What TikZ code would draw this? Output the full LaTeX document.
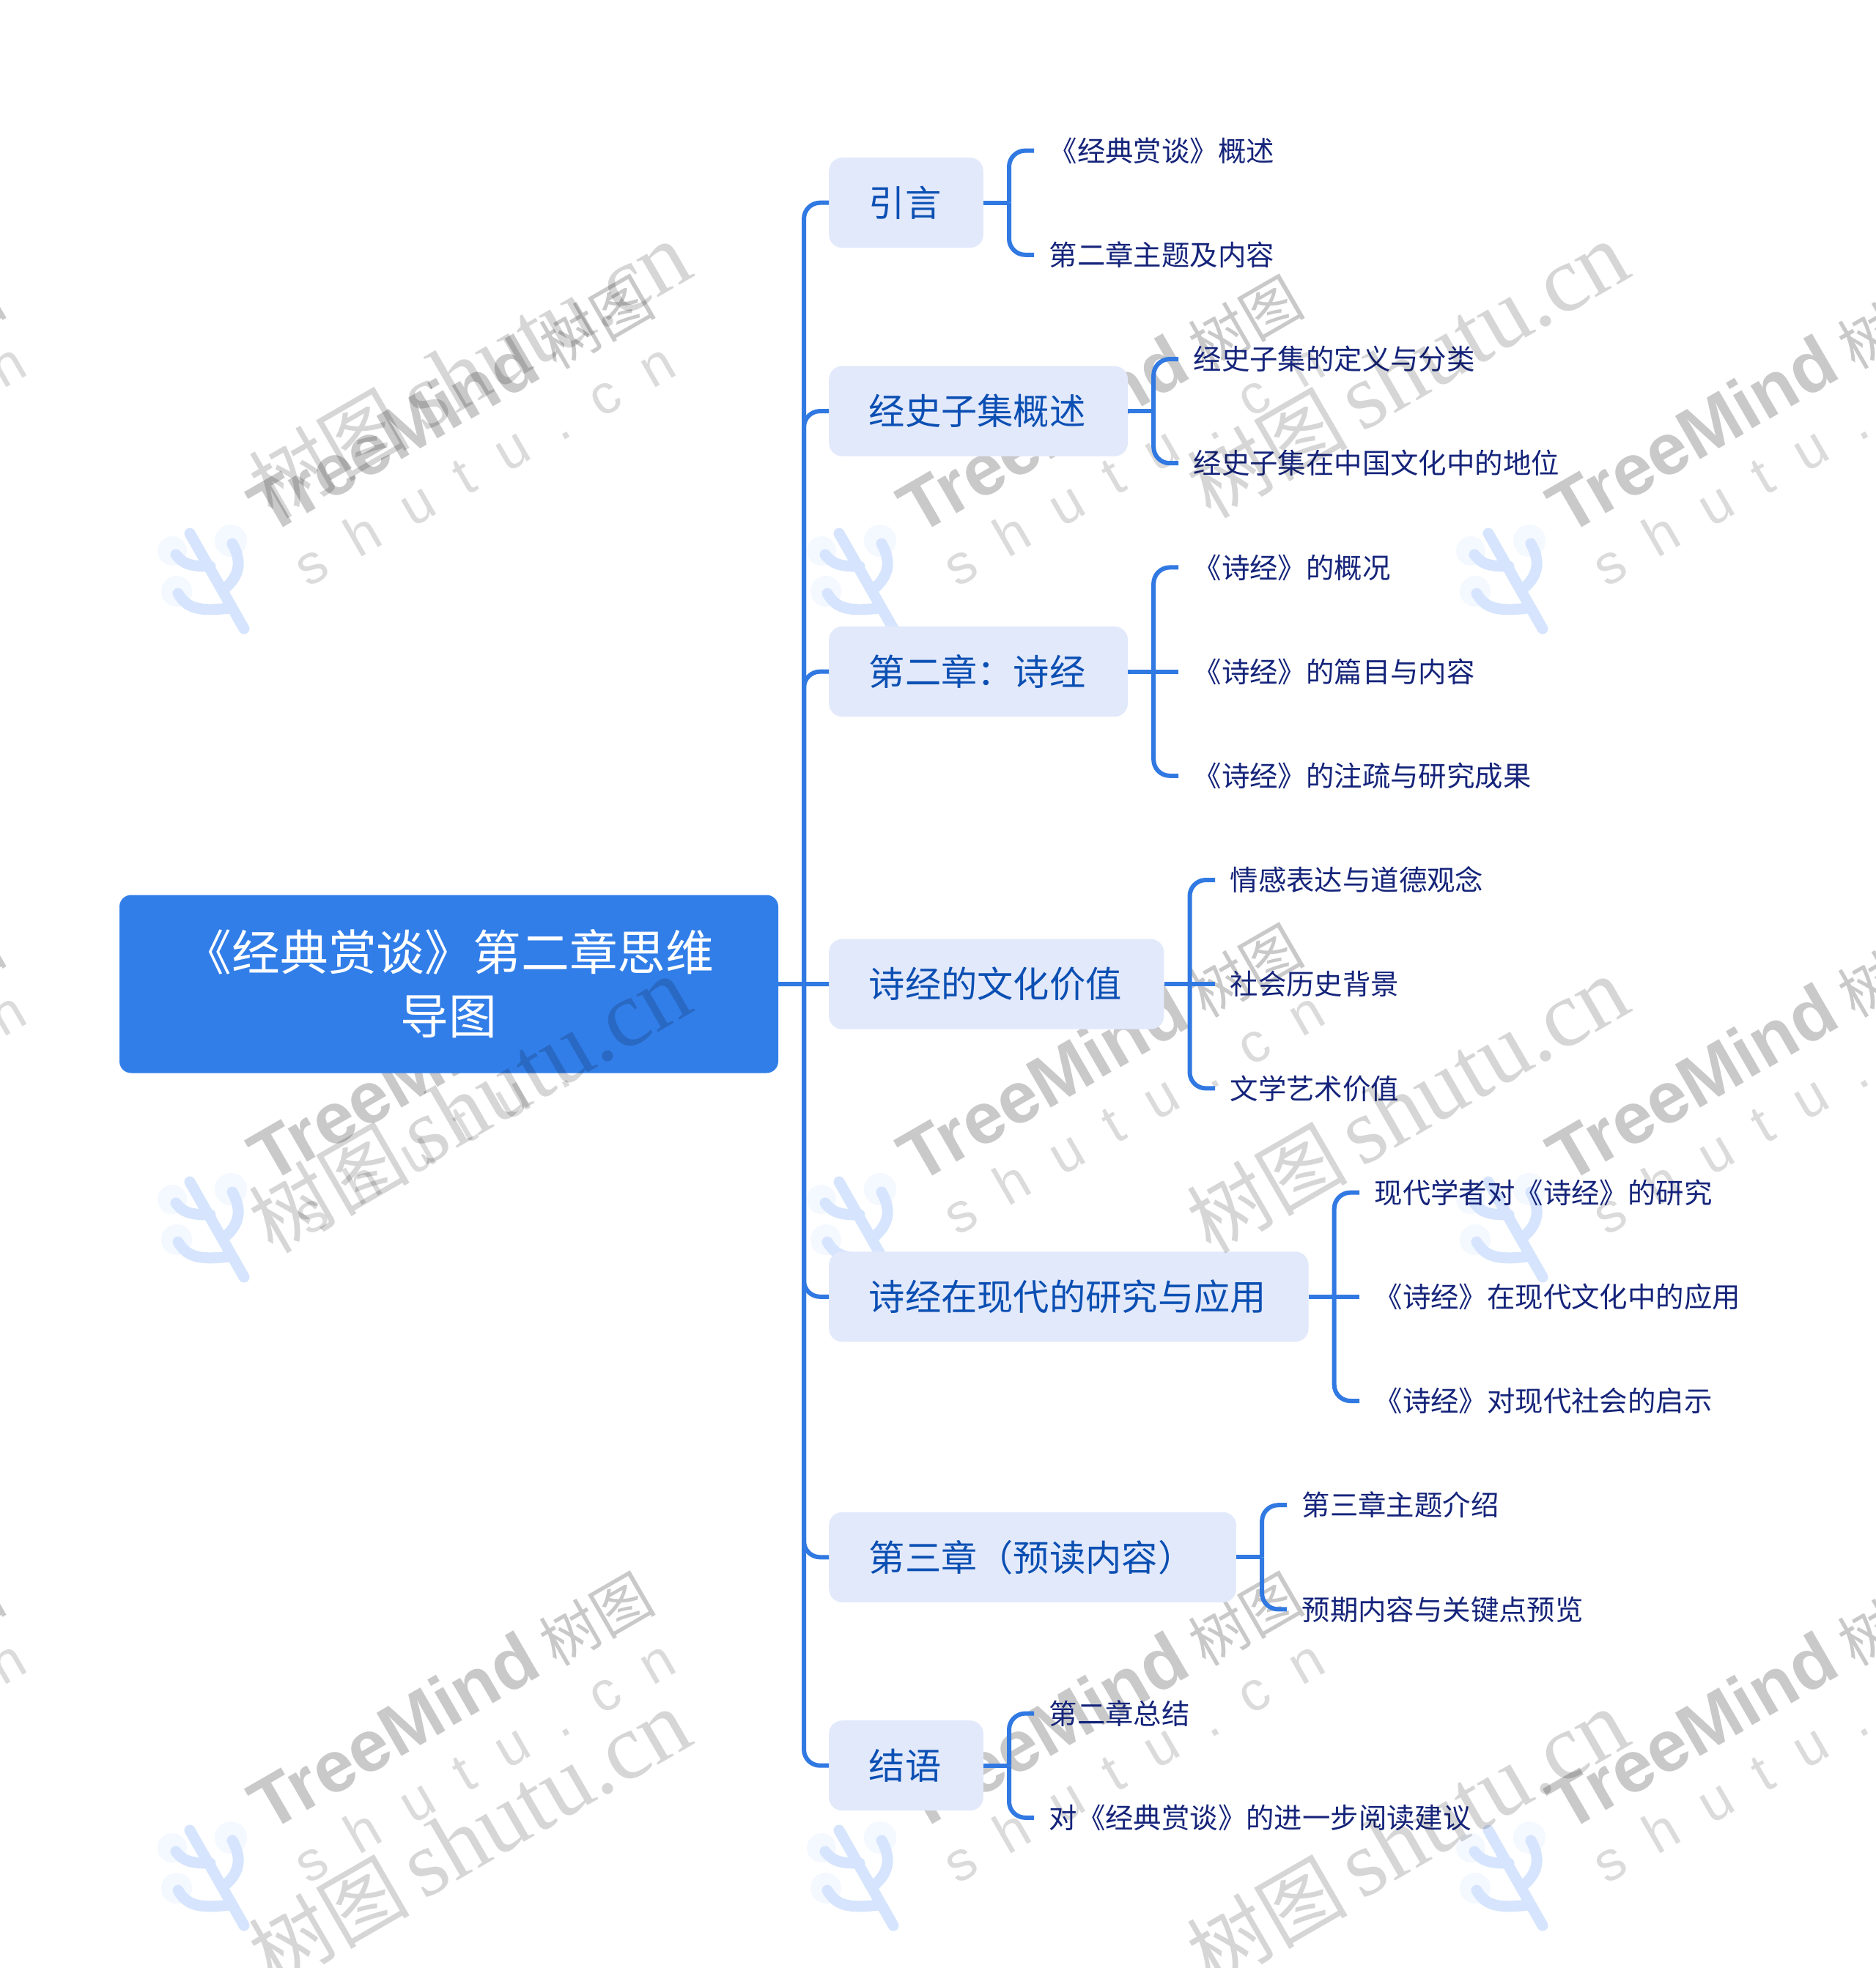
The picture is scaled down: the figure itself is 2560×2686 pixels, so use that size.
\documentclass[tikz,border=0pt]{standalone}
\usepackage{fontspec}
\usetikzlibrary{calc}
\newfontfamily\cjk{Noto Sans CJK SC}
\newfontfamily\wmbold{Liberation Sans Bold}
\newfontfamily\wmsp[LetterSpace=56]{Liberation Sans}
\newfontfamily\wmserif{Liberation Serif}
\definecolor{rootblue}{HTML}{317EE9}
\definecolor{linkblue}{HTML}{3179E2}
\definecolor{lonebg}{HTML}{E2E9FB}
\definecolor{lonetx}{HTML}{0B4FB3}
\definecolor{kidtx}{HTML}{15247A}
\definecolor{cactus}{HTML}{D6E5FD}
\definecolor{lobe}{HTML}{F4F8FF}
\tikzset{
  rootbox/.style={rectangle,rounded corners=16pt,fill=rootblue,text=white,inner sep=0pt,
    minimum width=899pt,minimum height=243pt,align=center,
    font=\cjk\fontsize{65.8}{87}\selectfont},
  lone/.style={rectangle,rounded corners=18pt,fill=lonebg,text=lonetx,anchor=west,
    inner xsep=56pt,inner ysep=0pt,minimum height=123pt,text height=43.4pt,text depth=5.9pt,
    execute at begin node=\kern-1.5pt,execute at end node=\kern1.5pt,
    font=\cjk\fontsize{49.3}{60}\selectfont},
  kid/.style={rectangle,text=kidtx,anchor=west,inner xsep=22pt,inner ysep=0pt,
    text height=33.8pt,text depth=4.6pt,
    execute at begin node=\kern-1.5pt,execute at end node=\kern1.5pt,
    font=\cjk\fontsize{38.4}{46}\selectfont},
  conn/.style={draw=linkblue,line width=6pt},
  curvelink/.style={conn,rounded corners=22pt},
  wmbig/.style={inner sep=0pt,rotate=30,anchor=base west,text=black,text opacity=.21},
  wmfaint/.style={inner sep=0pt,rotate=30,anchor=base west,text=black,text opacity=.14},
  wmtop/.style={inner sep=0pt,rotate=30,anchor=base east,text=black,text opacity=.16},
}
\begin{document}
\begin{tikzpicture}[x=1pt,y=-1pt]
\useasboundingbox (0,0) rectangle (2560,2686);
\fill[white] (0,0) rectangle (2560,2686);
% watermark layer beneath the diagram
\begin{scope}
\clip (0,0) rectangle (2560,2686);
\foreach \cx [count=\ci] in {-886,0,886,1772}{
 \foreach \ry [count=\ri] in {0,885,1770}{
  \begin{scope}[shift={(\cx,\ry)}]
   \begin{scope}[shift={(200,690)}]
    \fill[lobe] (35,62) circle[radius=20] (115,48) circle[radius=22] (41,117) circle[radius=21];
    \draw[cactus,line width=15pt,line cap=round]
      (59,38) -- (133,168)
      (117,52) .. controls (130,75) and (128,95) .. (107,113)
      (40,67) .. controls (50,80) and (60,83) .. (87,83)
      (43,120) .. controls (55,140) and (70,145) .. (113,140);
   \end{scope}
   \node[wmbig,font=\wmbold\fontsize{99}{99}\selectfont] (wa\ci\ri) at (366,732) {TreeMind};
   \node[wmbig,font=\cjk\fontsize{80}{80}\selectfont] (wb\ci\ri) at (759,506) {树图};
   \node[wmfaint,font=\wmsp\fontsize{76}{76}\selectfont] (wc\ci\ri) at (420,803) {shutu.cn};
  \end{scope}
 }
}
\end{scope}
% nodes
\node[rootbox] (root) at (612.5,1343) {《经典赏谈》第二章思维\\导图};
\node[lone] (a) at (1131,276.7) {引言};
\node[lone] (b) at (1131,561.1) {经史子集概述};
\node[lone] (c) at (1131,916.6) {第二章：诗经};
\node[lone] (d) at (1131,1343.2) {诗经的文化价值};
\node[lone] (e) at (1131,1769.8) {诗经在现代的研究与应用};
\node[lone] (f) at (1131,2125.3) {第三章（预读内容）};
\node[lone] (g) at (1131,2409.7) {结语};
\node[kid] (a1) at (1411,205.6) {《经典赏谈》概述};
\node[kid] (a2) at (1411,347.8) {第二章主题及内容};
\node[kid] (b1) at (1608,490) {经史子集的定义与分类};
\node[kid] (b2) at (1608,632.2) {经史子集在中国文化中的地位};
\node[kid] (c1) at (1608,774.4) {《诗经》的概况};
\node[kid] (c2) at (1608,916.6) {《诗经》的篇目与内容};
\node[kid] (c3) at (1608,1058.8) {《诗经》的注疏与研究成果};
\node[kid] (d1) at (1658,1201) {情感表达与道德观念};
\node[kid] (d2) at (1658,1343.2) {社会历史背景};
\node[kid] (d3) at (1658,1485.4) {文学艺术价值};
\node[kid] (e1) at (1855,1627.6) {现代学者对《诗经》的研究};
\node[kid] (e2) at (1855,1769.8) {《诗经》在现代文化中的应用};
\node[kid] (e3) at (1855,1912) {《诗经》对现代社会的启示};
\node[kid] (f1) at (1756,2054.2) {第三章主题介绍};
\node[kid] (f2) at (1756,2196.4) {预期内容与关键点预览};
\node[kid] (g1) at (1411,2338.6) {第二章总结};
\node[kid] (g2) at (1411,2480.8) {对《经典赏谈》的进一步阅读建议};
% connectors
\coordinate (rj) at (1097,1343.2);
\draw[conn] (root.east) -- (d.west);
\foreach \n in {a,b,c,e,f,g} \draw[curvelink] (rj) |- (\n.west);
\foreach \p in {a,b,c,d,e,f,g}{
  \coordinate (\p j) at ($(\p.east)+(35,0)$);
  \draw[conn] (\p.east) -- (\p j);
}
\foreach \p/\k in {a/a1,a/a2,b/b1,b/b2,c/c1,c/c3,d/d1,d/d3,e/e1,e/e3,f/f1,f/f2,g/g1,g/g2}
  \draw[curvelink] (\p j) |- (\k.west);
\foreach \p/\k in {c/c2,d/d2,e/e2} \draw[conn] (\p j) -- (\k.west);
% watermark layer above the diagram
\begin{scope}
\clip (0,0) rectangle (2560,2686);
\foreach \cx [count=\ci] in {951,2231}{
 \foreach \ry [count=\ri] in {375,1378,2378}{
  \node[wmtop] (wd\ci\ri) at (\cx,\ry) {{\cjk\fontsize{110}{110}\selectfont 树图}\hspace{18pt}{\wmserif\fontsize{128}{128}\selectfont shutu.cn}};
 }
}
\end{scope}
\end{tikzpicture}
\end{document}
